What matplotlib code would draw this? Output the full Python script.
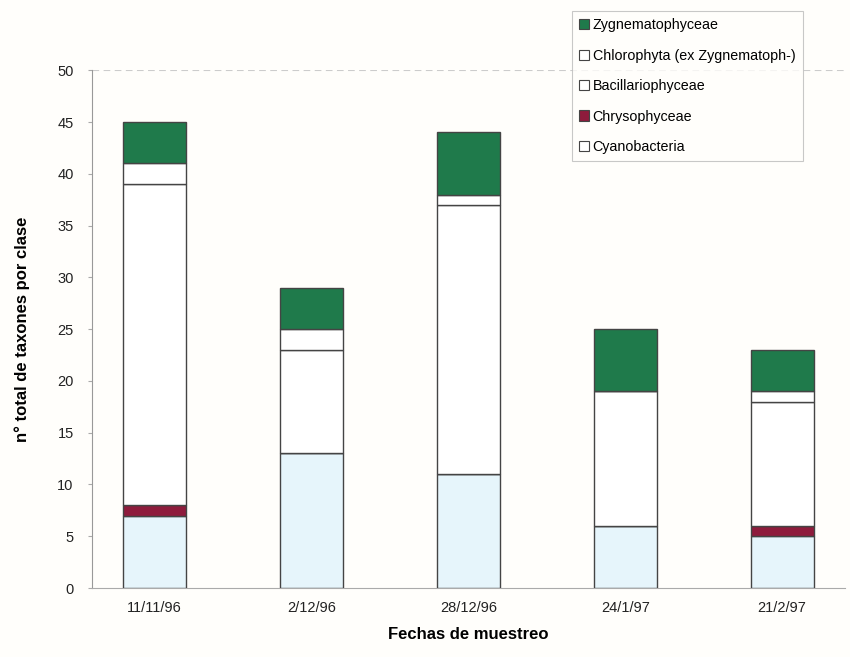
import matplotlib
matplotlib.use("Agg")
import matplotlib.pyplot as plt
import numpy as np

plt.rcParams["font.family"] = ["Liberation Sans", "DejaVu Sans"]

fechas = ["11/11/96", "2/12/96", "28/12/96", "24/1/97", "21/2/97"]
cyanobacteria = [7, 13, 11, 6, 5]
chrysophyceae = [1, 0, 0, 0, 1]
bacillariophyceae = [31, 10, 26, 13, 12]
chlorophyta = [2, 2, 1, 0, 1]
zygnematophyceae = [4, 4, 6, 6, 4]

series = [
    ("Cyanobacteria", cyanobacteria, "#e6f5fb"),
    ("Chrysophyceae", chrysophyceae, "#8e1b3c"),
    ("Bacillariophyceae", bacillariophyceae, "#ffffff"),
    ("Chlorophyta (ex Zygnematoph-)", chlorophyta, "#ffffff"),
    ("Zygnematophyceae", zygnematophyceae, "#1f7a4b"),
]

bg = "#fffefb"
fig = plt.figure(figsize=(8.5, 6.57), dpi=100, facecolor=bg)
ax = fig.add_axes([0.108, 0.105, 0.886, 0.788])
ax.set_facecolor(bg)

x = np.arange(len(fechas))
bottom = np.zeros(len(fechas))
handles = []
for name, vals, col in series:
    vals = np.array(vals, dtype=float)
    h = ax.bar(x, vals, bottom=bottom, width=0.4, color=col,
               edgecolor="#444444", linewidth=1.0, label=name, zorder=3)
    handles.append(h)
    bottom += vals

ax.set_xlim(-0.4, 4.4)
ax.set_ylim(0, 50)
ax.set_yticks(range(0, 51, 5))
ax.set_xticks(x)
ax.set_xticklabels(fechas, fontsize=10.5)
ax.tick_params(axis="y", labelsize=10.5, length=3, pad=10, color="#aaaaaa", labelcolor="#222222")
ax.tick_params(axis="x", length=0, pad=9, labelcolor="#222222")
ax.axhline(50, color="#cccccc", linestyle=(0, (6, 4)), linewidth=0.8, zorder=1)
for s in ["top", "right"]:
    ax.spines[s].set_visible(False)
ax.spines["left"].set_color("#999999")
ax.spines["bottom"].set_color("#aaaaaa")

ax.set_xlabel("Fechas de muestreo", fontsize=12, fontweight="bold", labelpad=9)
ax.set_ylabel("n° total de taxones por clase", fontsize=12, fontweight="bold", labelpad=20)

leg_handles = [handles[4], handles[3], handles[2], handles[1], handles[0]]
leg_labels = [series[4][0], series[3][0], series[2][0], series[1][0], series[0][0]]
leg = fig.legend(leg_handles, leg_labels, loc="upper left",
                 bbox_to_anchor=(572 / 850, 1 - 11 / 657), fontsize=10.3,
                 frameon=True, fancybox=False, edgecolor="#bbbbbb",
                 handlelength=0.7, handleheight=0.7, handletextpad=0.25,
                 labelspacing=1.15, borderpad=0.5, borderaxespad=0)
leg.get_frame().set_facecolor(bg)
leg.get_frame().set_linewidth(0.8)
for p in leg.get_patches():
    p.set_linewidth(0.8)
leg.get_patches()[4].set_facecolor("#ffffff")

fig.savefig("out.png", dpi=100, facecolor=bg)
